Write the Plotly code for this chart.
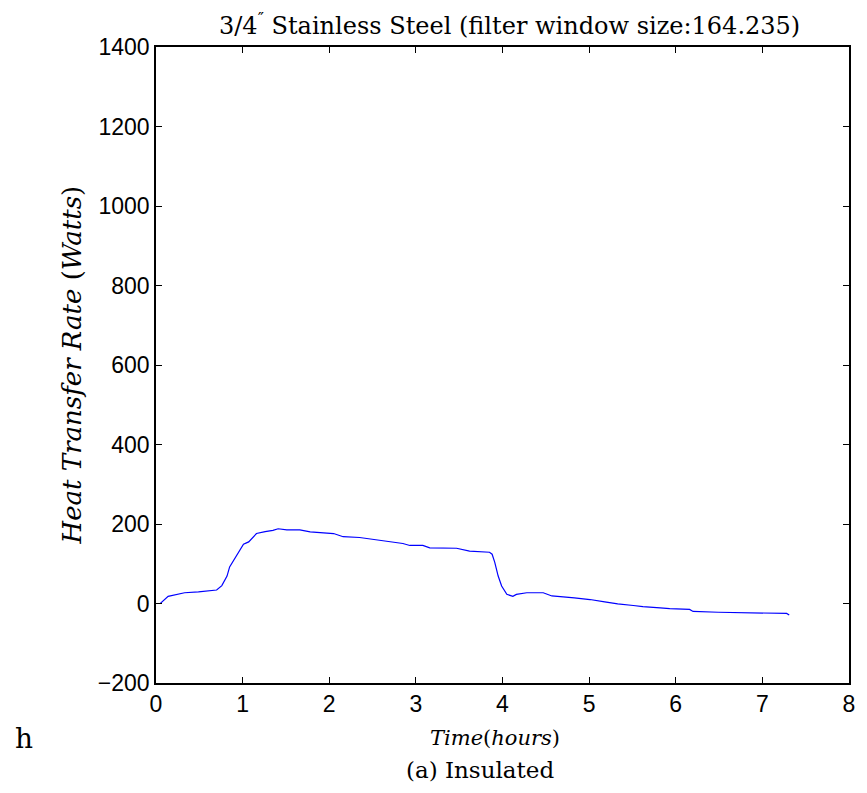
import plotly.graph_objects as go

# Time (hours) and heat transfer rate (W)
time_h = [0.00, 0.05, 0.14, 0.24, 0.33, 0.49, 0.60, 0.70, 0.76, 0.82, 0.85, 0.93,
          1.01, 1.07, 1.16, 1.26, 1.35, 1.41, 1.51, 1.66, 1.78, 2.05, 2.16, 2.35,
          2.53, 2.68, 2.85, 2.93, 3.08, 3.16, 3.47, 3.62, 3.85, 3.88, 3.91, 3.95,
          3.99, 4.05, 4.12, 4.16, 4.28, 4.47, 4.57, 4.83, 5.01, 5.18, 5.33, 5.51,
          5.62, 5.82, 5.93, 6.16, 6.20, 6.49, 6.82, 6.97, 7.28, 7.31]
heat_w = [0, 0, 18, 23, 27, 29, 31, 34, 45, 69, 92, 119,
          149, 155, 176, 181, 184, 188, 185, 185, 180, 176, 168, 166,
          160, 155, 151, 146, 146, 140, 139, 132, 129, 124, 104, 69,
          44, 23, 18, 23, 27, 27, 19, 14, 10, 4, -1, -5,
          -8, -11, -13, -15, -20, -22, -24, -25, -25, -29]

x_ticks = [0, 1, 2, 3, 4, 5, 6, 7, 8]
y_ticks = [-200, 0, 200, 400, 600, 800, 1000, 1200, 1400]

title_text = "3/4<sup>\u2033</sup> Stainless Steel (filter window size:164.235)"
x_label = "<i>Time</i>(<i>hours</i>)"
y_label = "<i>Heat Transfer Rate</i> (<i>Watts</i>)"
caption = "(a) Insulated"

serif = "DejaVu Serif, Liberation Serif, serif"
sans = "Liberation Sans, Arial, sans-serif"

W, H = 859, 785
L, R, T, B = 148, 14, 39, 110
PW, PH = W - L - R, H - T - B


def px(x, y):
    """pixel position in the figure -> paper coordinates"""
    return (x - L) / PW, 1 - (y - T) / PH


fig = go.Figure()
fig.add_trace(go.Scatter(x=time_h, y=heat_w, mode="lines",
                         line=dict(color="#0000ff", width=1.2),
                         hoverinfo="skip", showlegend=False))

axis_common = dict(showgrid=False, zeroline=False, showline=True, linecolor="black",
                   linewidth=1.5, mirror="ticks", ticks="inside", ticklen=6,
                   tickwidth=1, tickcolor="black",
                   tickfont=dict(family=sans, size=23, color="black"))

fig.update_xaxes(range=[0, 8], tickvals=x_ticks, **axis_common)
fig.update_yaxes(range=[-200, 1400], tickvals=y_ticks, **axis_common)


def ann(text, x, y, size, angle=0):
    xp, yp = px(x, y)
    return dict(text=text, x=xp, y=yp, xref="paper", yref="paper",
                xanchor="center", yanchor="middle", showarrow=False,
                textangle=angle, font=dict(family=serif, size=size, color="black"))


fig.update_layout(
    width=W, height=H,
    margin=dict(l=L, r=R, t=T, b=B),
    plot_bgcolor="white", paper_bgcolor="white",
    annotations=[
        ann(title_text, 504, 16, 24),
        ann(y_label, 64, 357, 26, -90),
        ann(x_label, 489, 730, 21),
        ann("h", 15, 730, 28),
        ann(caption, 474, 762, 23),
    ],
)

fig.write_html("out.html")
